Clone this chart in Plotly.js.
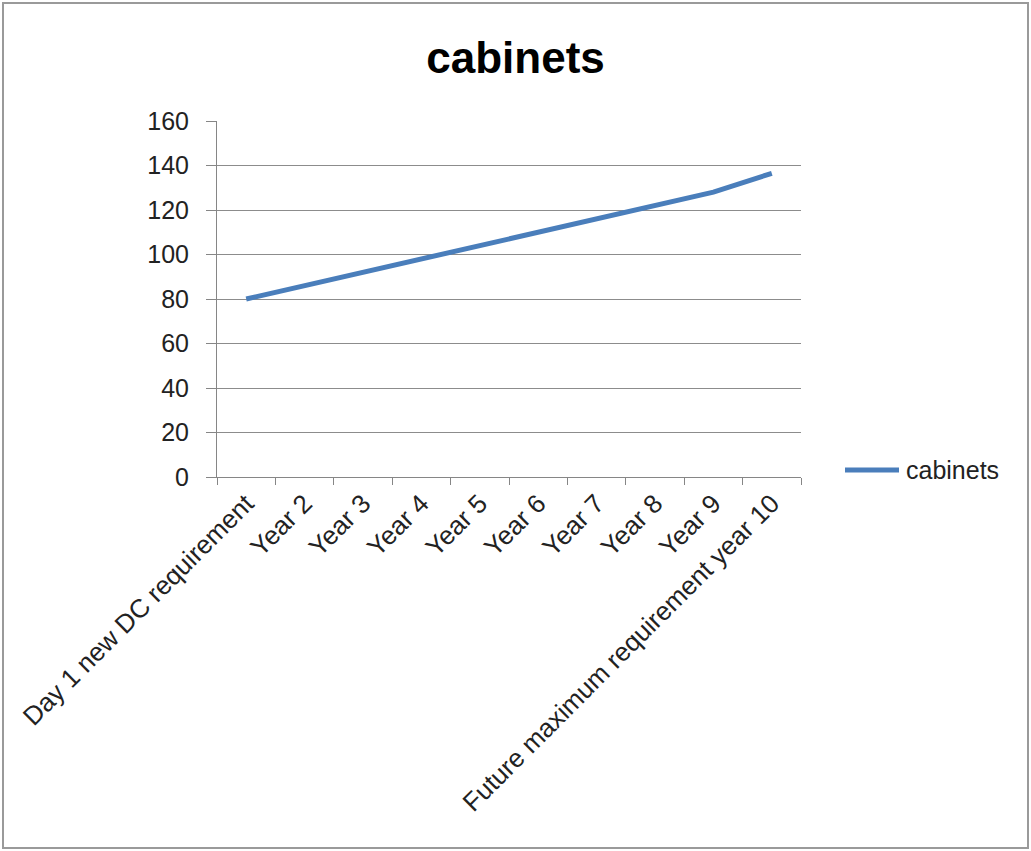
<!DOCTYPE html>
<html>
<head>
<meta charset="utf-8">
<script src="https://cdn.plot.ly/plotly-3.0.1.min.js"></script>
<style>
html,body{margin:0;padding:0;background:#fff;}
#wrap{position:relative;width:1031px;height:851px;}
#plot{position:absolute;left:0;top:0;width:1031px;height:851px;}
#frame{position:absolute;left:2px;top:2px;width:1023px;height:843px;border:2px solid #9a9a9a;pointer-events:none;}
</style>
</head>
<body>
<div id="wrap"><div id="plot"></div><div id="frame"></div></div>
<script>
const categories = ["Day 1 new DC requirement","Year 2","Year 3","Year 4","Year 5","Year 6","Year 7","Year 8","Year 9","Future maximum requirement year 10"];
const cabinets = [80, 86, 92, 98, 103.5, 110, 116, 122, 128, 136.5];
const seriesName = "cabinets";
const chartTitle = "cabinets";
const yTicks = [0,20,40,60,80,100,120,140,160];

const font = "Liberation Sans, Arial, sans-serif";
const lineColor = "#4A7EBB";
const trace = {
  x: categories, y: cabinets, type: "scatter", mode: "lines", name: seriesName,
  line: {color: lineColor, width: 5}, showlegend: false
};
// legend drawn as a key: paper coordinates relative to plot area (217..801 x, 477..121 y)
const px = v => (v - 217) / 584;
const py = v => (477 - v) / 356;
const layout = {
  width: 1031, height: 851,
  margin: {l: 217, r: 230, t: 121, b: 374},
  paper_bgcolor: "#fff", plot_bgcolor: "#fff",
  title: {text: "<b>" + chartTitle + "</b>", font: {family: font, size: 44, color: "#000"},
          x: 0.5, xref: "container", xanchor: "center", y: 1 - 58/851, yref: "container", yanchor: "middle"},
  font: {family: font, size: 24, color: "#222"},
  showlegend: false,
  shapes: [{type: "line", xref: "paper", yref: "paper", x0: px(845), x1: px(899), y0: py(470), y1: py(470),
            line: {color: lineColor, width: 5}}],
  annotations: [{text: seriesName, xref: "paper", yref: "paper", x: px(904), y: py(470), xanchor: "left", yanchor: "middle",
                 showarrow: false, font: {family: font, size: 25, color: "#222"}}],
  xaxis: {type: "category", range: [-0.5, categories.length - 0.5], tickson: "boundaries", ticks: "outside", ticklen: 7, tickcolor: "#868686",
          showline: true, linecolor: "#868686", linewidth: 1, showgrid: false, tickangle: -45,
          tickfont: {family: font, size: 26, color: "#222"}, fixedrange: true},
  yaxis: {range: [0, 160], tickvals: yTicks, ticks: "outside", ticklen: 10, tickcolor: "#868686",
          showline: true, linecolor: "#868686", linewidth: 1, showgrid: true, gridcolor: "#8c8c8c", gridwidth: 1,
          zeroline: false, tickfont: {family: font, size: 25, color: "#222"}, ticklabelstandoff: 12, fixedrange: true}
};
Plotly.newPlot("plot", [trace], layout, {displayModeBar: false, staticPlot: true});
</script>
</body>
</html>
